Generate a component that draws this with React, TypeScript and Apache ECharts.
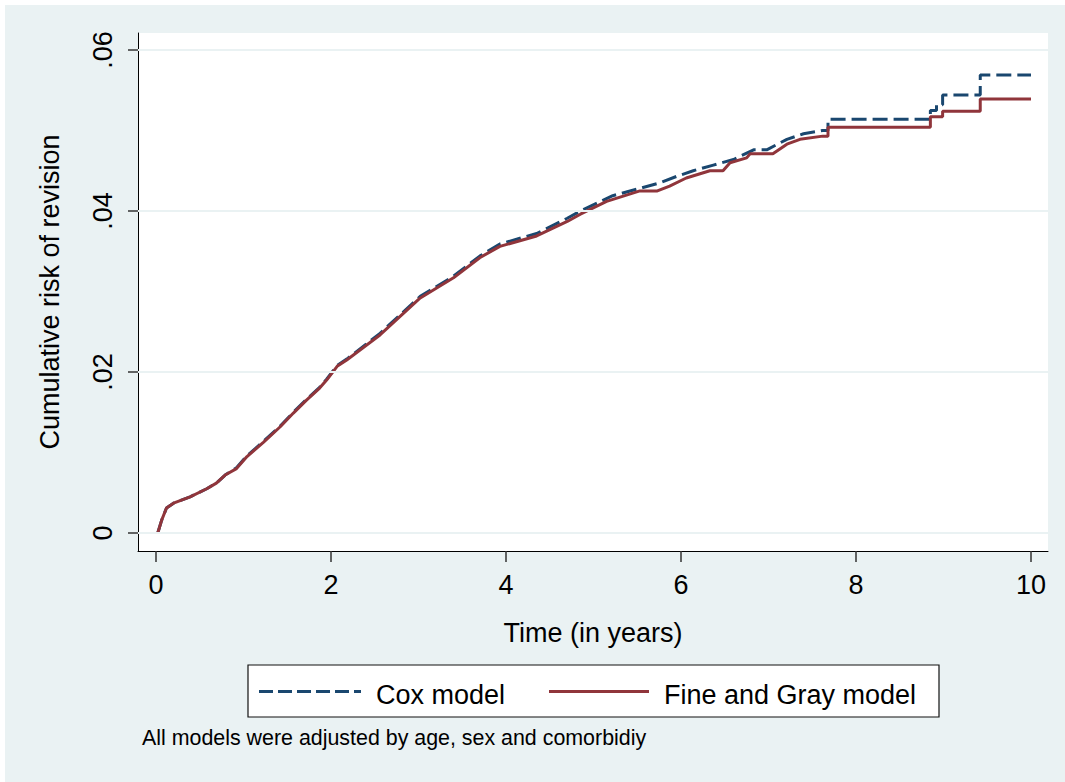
import React, { useEffect, useRef } from "react";
import * as echarts from "echarts";

const xTicks = [0, 2, 4, 6, 8, 10];
const yTicks = [0, 0.02, 0.04, 0.06];
const yTickLabels = ["0", ".02", ".04", ".06"];

const coxTime = [0.02, 0.065, 0.12, 0.2, 0.39, 0.58, 0.69, 0.79, 0.92, 1.04, 1.23, 1.42, 1.57, 1.72, 1.87, 1.95, 2.07, 2.18, 2.56, 3.02, 3.4, 3.7, 3.93, 4.35, 4.7, 4.85, 5.22, 5.49, 5.76, 5.95, 6.14, 6.37, 6.6, 6.83, 6.98, 7.21, 7.4, 7.62, 7.68, 7.68, 8.85, 8.85, 8.92, 8.92, 8.99, 8.99, 9.42, 9.42, 10.0];
const coxRisk = [0, 0.0016, 0.0031, 0.0037, 0.0045, 0.0055, 0.0062, 0.0072, 0.0081, 0.0096, 0.0114, 0.0133, 0.015, 0.0166, 0.0181, 0.0191, 0.0208, 0.0216, 0.0248, 0.0294, 0.0319, 0.0344, 0.0359, 0.0372, 0.0391, 0.04, 0.0419, 0.0427, 0.0435, 0.0443, 0.045, 0.0457, 0.0464, 0.0476, 0.0476, 0.0489, 0.0496, 0.05, 0.05, 0.0514, 0.0514, 0.0525, 0.0525, 0.0532, 0.0532, 0.0544, 0.0544, 0.0569, 0.0569];

const fgTime = [0.02, 0.065, 0.12, 0.2, 0.39, 0.58, 0.69, 0.79, 0.92, 1.04, 1.23, 1.42, 1.57, 1.72, 1.87, 1.95, 2.07, 2.18, 2.56, 3.02, 3.4, 3.7, 3.93, 4.35, 4.7, 4.85, 5.15, 5.53, 5.73, 5.87, 6.06, 6.33, 6.48, 6.56, 6.75, 6.79, 7.05, 7.21, 7.36, 7.62, 7.68, 7.68, 8.85, 8.85, 8.99, 8.99, 9.42, 9.42, 10.0];
const fgRisk = [0, 0.0016, 0.0031, 0.0037, 0.0045, 0.0055, 0.0062, 0.0072, 0.008, 0.0095, 0.0113, 0.0132, 0.0149, 0.0165, 0.018, 0.019, 0.0207, 0.0215, 0.0246, 0.0292, 0.0317, 0.0342, 0.0356, 0.0369, 0.0387, 0.0396, 0.0412, 0.0425, 0.0425, 0.0431, 0.0441, 0.045, 0.045, 0.046, 0.0466, 0.0471, 0.0471, 0.0483, 0.0489, 0.0493, 0.0493, 0.0504, 0.0504, 0.0517, 0.0517, 0.0524, 0.0524, 0.0539, 0.0539];

const seriesNames = ["Cox model", "Fine and Gray model"];
const xTitle = "Time (in years)";
const yTitle = "Cumulative risk of revision";
const footnote = "All models were adjusted by age, sex and comorbidiy";

const NAVY = "#1A476F";
const MAROON = "#90353B";
const BG = "#EAF2F3";
const FONT = "'Liberation Sans', Arial, Helvetica, sans-serif";

export default function App() {
  const ref = useRef<HTMLDivElement>(null);
  useEffect(() => {
    if (!ref.current) return;
    const chart = echarts.init(ref.current, undefined, { renderer: "svg" });
    const cox = coxTime.map((t, i) => [t, coxRisk[i]]);
    const fg = fgTime.map((t, i) => [t, fgRisk[i]]);
    chart.setOption({
      animation: false,
      backgroundColor: BG,
      textStyle: { fontFamily: FONT },
      grid: {
        left: 133,
        top: 28,
        width: 910,
        height: 518,
        show: true,
        backgroundColor: "#ffffff",
        borderWidth: 0,
        containLabel: false,
      },
      xAxis: {
        type: "value",
        min: -0.2057,
        max: 10.1943,
        name: xTitle,
        nameLocation: "middle",
        nameGap: 68,
        nameTextStyle: { fontSize: 27, color: "#000", fontFamily: FONT },
        axisLine: { show: true, onZero: false, lineStyle: { color: "#000", width: 1 } },
        axisTick: { show: true, length: 11, customValues: xTicks, lineStyle: { color: "#333", width: 1.5 } },
        axisLabel: { show: true, customValues: xTicks, fontSize: 27, color: "#000", margin: 20, fontFamily: FONT },
        splitLine: { show: false },
      },
      yAxis: {
        type: "value",
        min: -0.002236,
        max: 0.062112,
        name: yTitle,
        nameLocation: "middle",
        nameGap: 75,
        nameTextStyle: { fontSize: 27, color: "#000", fontFamily: FONT },
        axisLine: { show: true, onZero: false, lineStyle: { color: "#000", width: 1 } },
        axisTick: { show: true, length: 10, customValues: yTicks, lineStyle: { color: "#333", width: 1.5 } },
        axisLabel: {
          show: true,
          customValues: yTicks,
          rotate: 90,
          fontSize: 27,
          color: "#000",
          margin: 22,
          fontFamily: FONT,
          formatter: (v: number) => {
            const i = yTicks.findIndex((t) => Math.abs(t - v) < 1e-9);
            return i >= 0 ? yTickLabels[i] : "";
          },
        },
        splitLine: { show: false },
      },
      series: [
        {
          type: "line",
          name: "grid",
          data: [],
          z: 1,
          silent: true,
          markLine: {
            silent: true,
            symbol: ["none", "none"],
            label: { show: false },
            lineStyle: { color: BG, width: 2, type: "solid" },
            data: yTicks.map((v) => ({ yAxis: v })),
          },
        },
        {
          type: "line",
          name: seriesNames[0],
          data: cox,
          z: 3,
          showSymbol: false,
          symbol: "none",
          lineStyle: { color: NAVY, width: 3, type: [15, 6] },
          itemStyle: { color: NAVY },
        },
        {
          type: "line",
          name: seriesNames[1],
          data: fg,
          z: 4,
          showSymbol: false,
          symbol: "none",
          lineStyle: { color: MAROON, width: 3, type: "solid" },
          itemStyle: { color: MAROON },
        },
      ],
      graphic: [
        {
          type: "rect",
          shape: { x: 243, y: 660, width: 691, height: 52 },
          style: { fill: "#ffffff", stroke: "#111", lineWidth: 1.2 },
        },
        {
          type: "line",
          shape: { x1: 254, y1: 686.5, x2: 356, y2: 686.5 },
          style: { stroke: NAVY, lineWidth: 3, lineDash: [14, 5] },
        },
        {
          type: "text",
          x: 371,
          y: 690,
          style: { text: seriesNames[0], fontSize: 27, fill: "#000", font: `27px ${FONT}`, verticalAlign: "middle", align: "left" },
        },
        {
          type: "line",
          shape: { x1: 544, y1: 686.5, x2: 644, y2: 686.5 },
          style: { stroke: MAROON, lineWidth: 3 },
        },
        {
          type: "text",
          x: 659,
          y: 690,
          style: { text: seriesNames[1], fontSize: 27, fill: "#000", font: `27px ${FONT}`, verticalAlign: "middle", align: "left" },
        },
        {
          type: "text",
          x: 137,
          y: 732.5,
          style: { text: footnote, fontSize: 21.4, fill: "#000", font: `21.4px ${FONT}`, verticalAlign: "middle", align: "left" },
        },
      ],
    });
    return () => chart.dispose();
  }, []);
  return (
    <div style={{ position: "absolute", left: 0, top: 0, width: 1065, height: 782, background: "#ffffff" }}>
      <div ref={ref} style={{ position: "absolute", left: 5, top: 5, width: 1060, height: 777 }} />
    </div>
  );
}
